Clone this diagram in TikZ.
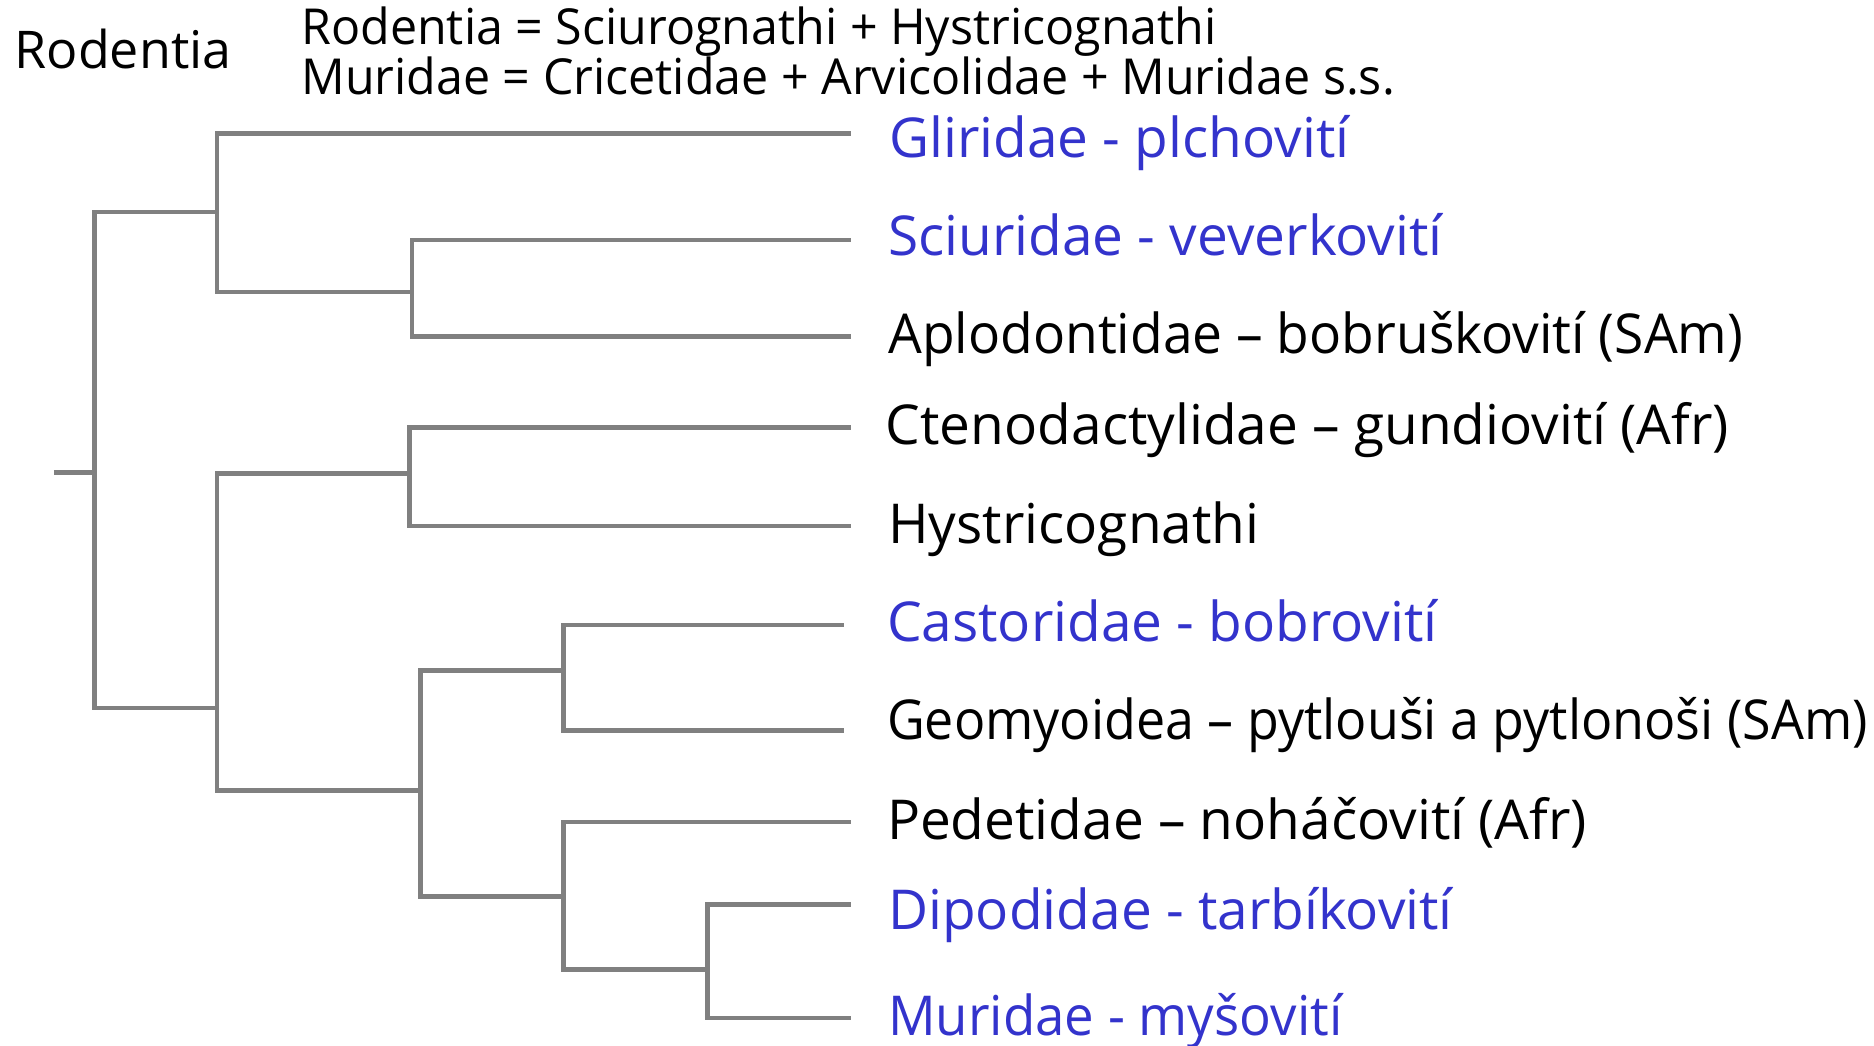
\documentclass[tikz,border=0pt]{standalone}
\usepackage{fontspec}
\setmainfont{Open Sans}
\newfontfamily\headfont[FakeStretch=0.975]{Open Sans}
\newfontfamily\aplfont[FakeStretch=0.97]{Open Sans}
\newfontfamily\murfont[FakeStretch=0.96]{Open Sans}
\newfontfamily\geofont[FakeStretch=0.945]{Open Sans}
\definecolor{treegray}{RGB}{128,128,128}
\definecolor{taxblue}{RGB}{51,51,204}
\tikzset{
  branch/.style={draw=treegray, line width=4pt, line join=miter},
  leaf/.style={anchor=base west, inner sep=0pt, font=\fontsize{46}{50}\selectfont, text=black},
  leafblue/.style={leaf, text=taxblue},
  head/.style={anchor=base west, inner sep=0pt, font=\fontsize{41.5}{46}\headfont},
}
\begin{document}
\begin{tikzpicture}[x=1pt,y=-1pt]
\useasboundingbox (0,0) rectangle (1568,875);
% header texts
\node[head, font=\fontsize{43.5}{50}\selectfont] (title) at (12,57) {Rodentia};
\node[head] (eq1) at (252,37) {Rodentia = Sciurognathi + Hystricognathi};
\node[head] (eq2) at (252,79) {Muridae = Cricetidae + Arvicolidae + Muridae s.s.};
% leaf labels
\node[leafblue] (lglir) at (744,131.5) {Gliridae - plchovití};
\node[leafblue] (lsciu) at (743,213.5) {Sciuridae - veverkovití};
\node[leaf, font=\fontsize{46}{50}\aplfont] (lapl) at (743,295.5) {Aplodontidae – bobruškovití (SAm)};
\node[leaf] (lcten) at (741,371.5) {Ctenodactylidae – gundiovití (Afr)};
\node[leaf] (lhys) at (743,454.5) {Hystricognathi};
\node[leafblue] (lcas) at (742,537) {Castoridae - bobrovití};
\node[leaf, font=\fontsize{46}{50}\geofont] (lgeo) at (742,619) {Geomyoidea – pytlouši a pytlonoši (SAm)};
\node[leaf] (lped) at (742,702) {Pedetidae – noháčovití (Afr)};
\node[leafblue] (ldip) at (743,778) {Dipodidae - tarbíkovití};
\node[leafblue, font=\fontsize{46}{50}\murfont] (lmur) at (743,866) {Muridae - myšovití};
% leaf line ends
\coordinate (eglir) at (712,111.4);
\coordinate (esciu) at (712,200.8);
\coordinate (eapl) at (712,281.7);
\coordinate (ecten) at (712,357.9);
\coordinate (ehys) at (712,440.1);
\coordinate (ecas) at (706,523);
\coordinate (egeo) at (706,610.9);
\coordinate (eped) at (712,687.7);
\coordinate (edip) at (712,756.6);
\coordinate (emur) at (712,851.8);
% internal nodes
\coordinate (stub) at (45,395.6);
\coordinate (R) at (79,395.6);
\coordinate (A) at (181.6,177.4);
\coordinate (B) at (344.7,244.3);
\coordinate (C) at (181.6,592.4);
\coordinate (D) at (342.8,396);
\coordinate (E) at (351.9,661.3);
\coordinate (F) at (471.8,560.7);
\coordinate (G) at (471.8,750.2);
\coordinate (H) at (592.2,811.1);
% branches
\draw[branch] (stub) -- (R);
\draw[branch] (A) -| (R) |- (C);
\draw[branch] (eglir) -| (A) |- (B);
\draw[branch] (esciu) -| (B) |- (eapl);
\draw[branch] (D) -| (C) |- (E);
\draw[branch] (ecten) -| (D) |- (ehys);
\draw[branch] (F) -| (E) |- (G);
\draw[branch] (ecas) -| (F) |- (egeo);
\draw[branch] (eped) -| (G) |- (H);
\draw[branch] (edip) -| (H) |- (emur);
\end{tikzpicture}
\end{document}
